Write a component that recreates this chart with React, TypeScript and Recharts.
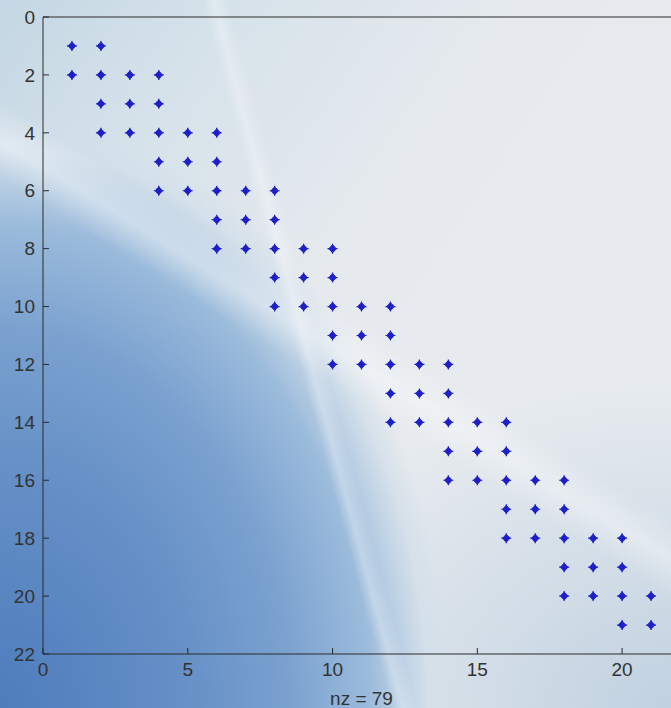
import React from "react"
import { ScatterChart, Scatter, XAxis, YAxis } from "recharts"

// columns holding a nonzero, one list per matrix row (rows 1..21)
const rowNumbers = [1, 2, 3, 4, 5, 6, 7, 8, 9, 10, 11, 12, 13, 14, 15, 16, 17, 18, 19, 20, 21]
const rowColumns = [
  [1, 2],
  [1, 2, 3, 4],
  [2, 3, 4],
  [2, 3, 4, 5, 6],
  [4, 5, 6],
  [4, 5, 6, 7, 8],
  [6, 7, 8],
  [6, 7, 8, 9, 10],
  [8, 9, 10],
  [8, 9, 10, 11, 12],
  [10, 11, 12],
  [10, 11, 12, 13, 14],
  [12, 13, 14],
  [12, 13, 14, 15, 16],
  [14, 15, 16],
  [14, 15, 16, 17, 18],
  [16, 17, 18],
  [16, 17, 18, 19, 20],
  [18, 19, 20],
  [18, 19, 20, 21],
  [20, 21],
]
const xTicks = [0, 5, 10, 15, 20]
const yTicks = [0, 2, 4, 6, 8, 10, 12, 14, 16, 18, 20, 22]

const points = rowNumbers.flatMap((row, i) => rowColumns[i].map((col) => ({ col, row })))

const MARKER = "#1e20c8"
const INK = "#2a2a2a"
const tickStyle = { fontSize: 19, fill: "#333", fontFamily: "Liberation Sans" }

function Dot(props: any) {
  const { cx, cy } = props
  if (cx == null || cy == null) return null
  return (
    <g>
      <path d={`M${cx},${cy - 4.5}L${cx + 4.2},${cy}L${cx},${cy + 4.5}L${cx - 4.2},${cy}Z`} fill={MARKER} />
      <circle cx={cx} cy={cy} r={2.8} fill={MARKER} />
      <path d={`M${cx - 5},${cy}H${cx + 5}M${cx},${cy - 5}V${cy + 5}`} stroke={MARKER} strokeWidth={1.2} />
    </g>
  )
}

const background = [
  "linear-gradient(75deg, rgba(255,255,255,0) 45.5%, rgba(255,255,255,0.3) 46.8%, rgba(255,255,255,0) 48.5%)",
  "linear-gradient(212deg, rgba(255,255,255,0) 46%, rgba(255,255,255,0.35) 49.6%, rgba(255,255,255,0) 53%)",
  "radial-gradient(ellipse 450px 590px at 0% 100%, #4e7dbd 0%, #658fc6 40%, #7aa1cf 64%, #9bbbdb 82%, rgba(210,223,234,0.8) 95%, rgba(230,235,239,0) 100%)",
  "radial-gradient(ellipse 420px 330px at 100% 100%, rgba(188,206,223,0.9) 0%, rgba(200,215,228,0) 100%)",
  "linear-gradient(125deg, #c4d7e4 0%, #d6e2ea 20%, #e6eaee 45%, #e8ecef 100%)",
].join(", ")

export default function App() {
  return (
    <div
      style={{
        position: "absolute",
        left: 0,
        top: 0,
        width: 671,
        height: 708,
        overflow: "hidden",
        background,
        fontFamily: "Liberation Sans",
      }}
    >
      <ScatterChart width={700} height={708} margin={{ top: 16, right: 20, bottom: 0, left: 0 }}>
        <XAxis
          dataKey="col"
          type="number"
          domain={[0, 22]}
          ticks={xTicks}
          allowDataOverflow
          height={54}
          tick={tickStyle}
          tickSize={-6}
          tickMargin={15}
          axisLine={{ stroke: INK }}
          tickLine={{ stroke: INK }}
          label={{ value: "nz = 79", position: "insideBottom", offset: 3, fontSize: 19, fill: "#333", fontFamily: "Liberation Sans" }}
        />
        {/* top frame edge with inward ticks, no labels */}
        <XAxis
          xAxisId="top"
          orientation="top"
          type="number"
          domain={[0, 22]}
          ticks={xTicks}
          allowDataOverflow
          height={1}
          tick={false}
          tickSize={-6}
          axisLine={{ stroke: INK }}
          tickLine={{ stroke: INK }}
        />
        <YAxis
          dataKey="row"
          type="number"
          domain={[0, 22]}
          reversed
          ticks={yTicks}
          allowDataOverflow
          width={43}
          tick={tickStyle}
          tickSize={-6}
          tickMargin={14}
          axisLine={{ stroke: INK }}
          tickLine={{ stroke: INK }}
        />
        <Scatter data={points} shape={Dot} isAnimationActive={false} />
      </ScatterChart>
    </div>
  )
}
